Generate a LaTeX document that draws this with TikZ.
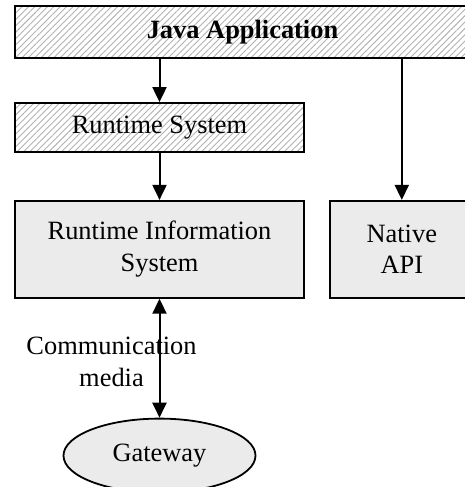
\documentclass[tikz,border=0pt]{standalone}
\usepackage{fontspec}
\setmainfont{Liberation Serif}
\usetikzlibrary{positioning,arrows.meta,shapes,patterns.meta}

\begin{document}
\begin{tikzpicture}[x=1pt, y=1pt, node distance = 47pt, > = {Triangle[length=15pt, width=14pt]},
font=\fontsize{26.4}{31.7}\selectfont,
hatched/.style={ rectangle, draw, line width=1.8pt, pattern={Lines[angle=45, distance=4.5pt, line width=0.9pt]}, pattern color=black!30, inner sep=0pt },
block/.style={ rectangle, draw, fill=black!8, line width=1.8pt, minimum width=289pt, minimum height=97pt, align=center, inner sep=0pt },
link/.style={ ->, line width=2pt }]

\useasboundingbox (0,0) rectangle (464,-487);

\node (java) [hatched, minimum width=455pt, minimum height=52pt, font=\fontsize{26.4}{31.7}\selectfont\bfseries] at (242.5,-32) {Java Application};
\node (rts) [hatched, minimum width=289pt, minimum height=49pt] at (159.5,-127.5) {Runtime System};

%the two lower boxes
\node (ris) [block, below = of rts] {Runtime Information\\System};
\node (api) [block, minimum width=144pt, right = 24pt of ris] {Native\\API};

\node (gw) [ellipse, draw, fill=black!8, line width=1.8pt, minimum width=192pt, minimum height=74pt, below = 119pt of ris] {Gateway};

\draw [link] (java.south -| rts.north) -- (rts.north);
\draw [link] (rts.south) -- (ris.north);
\draw [link] (java.south -| api.north) -- (api.north);
\draw [link, <->] (ris.south) -- node (media) [midway, xshift=-48pt, yshift=-4pt, align=center] {Communication\\media} (gw.north);

\end{tikzpicture}
\end{document}
